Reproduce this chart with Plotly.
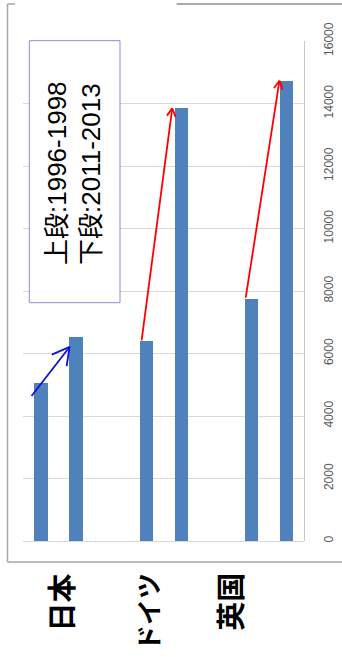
import math
import plotly.graph_objects as go

# ---- data ----
countries = ["日本", "ドイツ", "英国"]
period_labels = ["1996-1998", "2011-2013"]
values_1996_1998 = [5060, 6400, 7740]
values_2011_2013 = [6530, 13850, 14730]
y_tickvals = [0, 2000, 4000, 6000, 8000, 10000, 12000, 14000, 16000]
y_ticktext = ["0", "2000", "4000", "6000", "8000", "10000", "12000", "14000", "16000"]

# ---- layout constants ----
W, H = 342, 657
ML, MR, MT, MB = 23, 38, 41, 116
XR = [-0.52, 7.5]
YR = [0, 16000]
PW, PH = W - ML - MR, H - MT - MB
px_per_x = PW / (XR[1] - XR[0])
px_per_y = PH / (YR[1] - YR[0])

# slot positions: each country gets two adjacent slots, then an empty one
slot_first = [3 * i for i in range(len(countries))]
slot_second = [3 * i + 1 for i in range(len(countries))]

BAR_COLOR = "#4f81bd"
fig = go.Figure()
fig.add_trace(go.Bar(x=slot_first, y=values_1996_1998, width=0.39,
                     marker=dict(color=BAR_COLOR, line=dict(width=0)),
                     name=period_labels[0], showlegend=False))
fig.add_trace(go.Bar(x=slot_second, y=values_2011_2013, width=0.39,
                     marker=dict(color=BAR_COLOR, line=dict(width=0)),
                     name=period_labels[1], showlegend=False))

def paper_x(px):
    return (px - ML) / PW

def paper_y(py):
    return (H - MB - py) / PH

annotations = []
shapes = []

# category labels (rotated)
label_x = [0.55, 3.02, 5.35]
label_size = [29, 26, 29]
for name, lx, fs in zip(countries, label_x, label_size):
    annotations.append(dict(
        x=lx, xref="x", y=paper_y(571), yref="paper",
        text="<b>" + name + "</b>", showarrow=False, textangle=-90,
        xanchor="center", yanchor="top",
        font=dict(family="Noto Sans CJK JP", size=fs, color="#000000")))

# legend-like text box
shapes.append(dict(type="rect", xref="paper", yref="paper",
                   x0=paper_x(29.3), x1=paper_x(120), y0=paper_y(302.7), y1=paper_y(40.7),
                   line=dict(color="#8c8cd9", width=1), fillcolor="#ffffff", layer="above"))
annotations.append(dict(
    x=paper_x(73.5), xref="paper", y=paper_y(173.5), yref="paper",
    text="上段:" + period_labels[0] + "<br>下段:" + period_labels[1],
    showarrow=False, textangle=-90, xanchor="center", yanchor="middle", align="left",
    font=dict(family="Liberation Sans, Noto Sans CJK JP", size=26, color="#000000")))

# arrows between periods
def add_arrow(tx, ty, hx, hy, color, width, arm, ang_deg):
    annotations.append(dict(x=hx, y=hy, xref="x", yref="y", ax=tx, ay=ty,
                            axref="x", ayref="y", text="", showarrow=True,
                            arrowhead=0, arrowwidth=width, arrowcolor=color))
    dxp = (tx - hx) * px_per_x
    dyp = -(ty - hy) * px_per_y
    n = math.hypot(dxp, dyp)
    ux, uy = dxp / n, dyp / n
    for s in (1, -1):
        a = math.radians(ang_deg * s)
        rx = ux * math.cos(a) - uy * math.sin(a)
        ry = ux * math.sin(a) + uy * math.cos(a)
        annotations.append(dict(x=hx, y=hy, xref="x", yref="y",
                                ax=rx * arm, ay=ry * arm, text="", showarrow=True,
                                arrowhead=0, arrowwidth=width, arrowcolor=color))

arrow_style = [
    dict(color="#1010d8", width=1.8, arm=21, ang=29, tdx=-0.31, tdy=-470, hdx=-0.19, hdy=-320),
    dict(color="#ff0000", width=1.8, arm=11, ang=28, tdx=-0.14, tdy=-30, hdx=-0.26, hdy=0),
    dict(color="#ff0000", width=1.8, arm=11, ang=28, tdx=-0.17, tdy=0, hdx=-0.20, hdy=0),
]
for i, st in enumerate(arrow_style):
    add_arrow(slot_first[i] + st["tdx"], values_1996_1998[i] + st["tdy"],
              slot_second[i] + st["hdx"], values_2011_2013[i] + st["hdy"],
              st["color"], st["width"], st["arm"], st["ang"])

# outer frame (partially cut off picture border)
FRAME = "#a6a6a6"
shapes += [
    dict(type="line", xref="paper", yref="paper", x0=paper_x(7.5), x1=paper_x(7.5),
         y0=paper_y(4), y1=paper_y(562), line=dict(color=FRAME, width=1.5)),
    dict(type="line", xref="paper", yref="paper", x0=paper_x(7.5), x1=paper_x(345),
         y0=paper_y(562), y1=paper_y(562), line=dict(color=FRAME, width=1.5)),
    dict(type="line", xref="paper", yref="paper", x0=paper_x(7.5), x1=paper_x(15),
         y0=paper_y(4), y1=paper_y(4), line=dict(color=FRAME, width=1.5)),
    dict(type="line", xref="paper", yref="paper", x0=paper_x(176.7), x1=paper_x(345),
         y0=paper_y(4), y1=paper_y(4), line=dict(color="#8c8c8c", width=1.5)),
]

fig.update_layout(
    width=W, height=H,
    margin=dict(l=ML, r=MR, t=MT, b=MB, pad=0, autoexpand=False),
    paper_bgcolor="#ffffff", plot_bgcolor="#ffffff",
    xaxis=dict(range=XR, visible=False, fixedrange=True, automargin=False),
    yaxis=dict(range=YR, side="right", tickvals=y_tickvals, ticktext=y_ticktext,
               tickangle=-90, ticklabelstandoff=14, automargin=False,
               tickfont=dict(family="Liberation Sans", size=12, color="#595959"),
               showgrid=True, gridcolor="#d9d9d9", gridwidth=1,
               zeroline=True, zerolinecolor="#d9d9d9", zerolinewidth=1,
               showline=True, linecolor="#c8c8c8", linewidth=1, ticks=""),
    bargap=0, showlegend=False,
    annotations=annotations, shapes=shapes,
)

fig.write_html("out.html")
